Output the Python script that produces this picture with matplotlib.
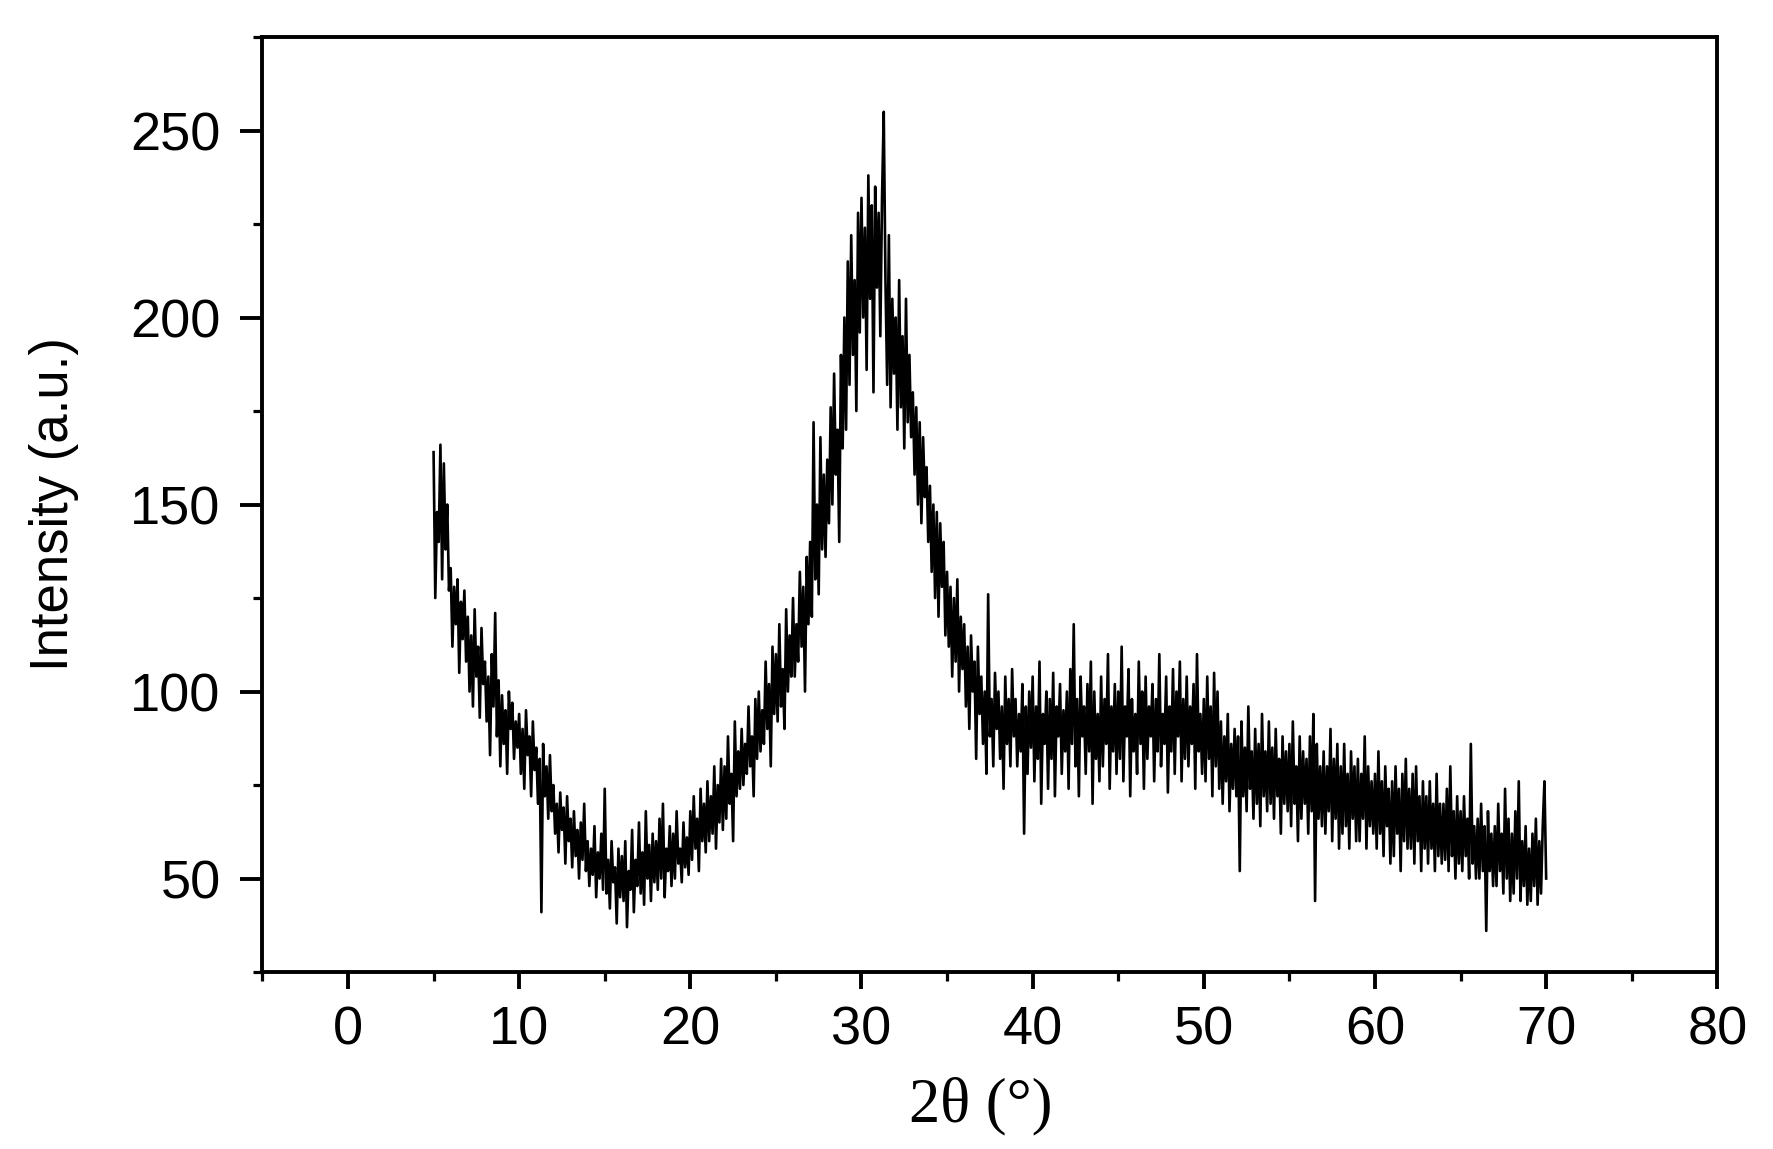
import numpy as np
import matplotlib
matplotlib.use("Agg")
import matplotlib.pyplot as plt
from matplotlib.ticker import MultipleLocator

# XRD scan: 2theta from 5 to 70 deg, 0.1 deg steps, intensities
scan_start = 5.0
scan_step = 0.1

intensity = [
    164, 125, 148, 140, 166, 130, 161, 138, 150, 127,   # 5
    133, 112, 128, 118, 130, 105, 124, 114, 127, 108,   # 6
    120, 100, 115, 96, 122, 104, 112, 93, 117, 102,     # 7
    108, 92, 104, 83, 110, 96, 121, 88, 103, 80,        # 8
    99, 86, 95, 78, 100, 90, 97, 82, 92, 85,            # 9
    94, 78, 90, 74, 95, 83, 88, 72, 92, 79,             # 10
    85, 70, 82, 41, 86, 72, 80, 66, 83, 68,             # 11
    75, 62, 70, 57, 73, 63, 69, 54, 72, 60,             # 12
    66, 53, 68, 56, 63, 50, 65, 55, 70, 52,             # 13
    60, 48, 58, 51, 64, 45, 57, 50, 62, 47,             # 14
    74, 46, 55, 42, 60, 49, 53, 38, 58, 45,             # 15
    56, 44, 60, 37, 52, 47, 63, 41, 55, 48,             # 16
    65, 46, 57, 43, 68, 50, 59, 44, 62, 49,             # 17
    60, 47, 66, 50, 70, 45, 58, 52, 64, 48,             # 18
    62, 50, 68, 54, 58, 49, 65, 53, 61, 51,             # 19
    68, 55, 72, 58, 66, 52, 74, 60, 70, 57,             # 20
    76, 60, 72, 62, 80, 58, 75, 65, 82, 63,             # 21
    80, 66, 88, 70, 78, 60, 92, 72, 84, 74,             # 22
    90, 75, 86, 78, 96, 80, 88, 72, 98, 82,             # 23
    100, 84, 95, 86, 108, 90, 102, 80, 112, 94,         # 24
    110, 92, 118, 96, 106, 90, 122, 100, 115, 104,      # 25
    125, 104, 118, 108, 132, 112, 128, 100, 136, 118,   # 26
    140, 120, 172, 130, 150, 126, 168, 138, 158, 136,   # 27
    162, 145, 176, 150, 185, 158, 170, 140, 190, 165,   # 28
    200, 170, 215, 182, 222, 190, 210, 175, 228, 196,   # 29
    232, 200, 224, 186, 238, 205, 230, 180, 235, 208,   # 30
    228, 195, 232, 255, 210, 182, 222, 176, 205, 185,   # 31
    200, 170, 210, 176, 195, 165, 205, 172, 190, 168,   # 32
    180, 158, 176, 150, 172, 145, 168, 152, 160, 140,   # 33
    155, 132, 150, 125, 148, 120, 145, 128, 140, 115,   # 34
    132, 112, 128, 104, 125, 108, 130, 100, 120, 106,   # 35
    118, 96, 112, 90, 115, 100, 108, 82, 112, 94,       # 36
    104, 86, 100, 78, 126, 88, 98, 80, 105, 90,         # 37
    100, 82, 96, 74, 104, 86, 98, 80, 106, 88,          # 38
    98, 80, 94, 84, 102, 62, 96, 78, 100, 85,           # 39
    104, 76, 96, 82, 108, 70, 94, 86, 100, 74,          # 40
    98, 82, 105, 72, 96, 88, 102, 78, 95, 84,           # 41
    100, 74, 106, 86, 118, 80, 98, 72, 104, 88,         # 42
    96, 78, 102, 84, 108, 70, 100, 82, 94, 76,          # 43
    104, 80, 98, 86, 110, 74, 96, 84, 102, 78,          # 44
    100, 82, 112, 76, 96, 88, 106, 72, 98, 84,          # 45
    94, 78, 108, 86, 100, 74, 104, 82, 96, 88,          # 46
    102, 76, 98, 84, 110, 80, 94, 86, 104, 73,          # 47
    96, 84, 106, 78, 100, 88, 108, 76, 98, 82,          # 48
    104, 80, 96, 86, 102, 74, 110, 84, 94, 78,          # 49
    98, 76, 104, 82, 96, 72, 105, 80, 100, 74,          # 50
    92, 70, 88, 76, 94, 68, 86, 74, 90, 72,             # 51
    88, 52, 92, 72, 85, 68, 96, 74, 84, 66,             # 52
    90, 70, 86, 64, 94, 72, 84, 68, 92, 70,             # 53
    85, 66, 90, 72, 82, 62, 88, 70, 84, 68,             # 54
    86, 64, 92, 70, 80, 60, 88, 66, 84, 70,             # 55
    82, 62, 88, 68, 94, 44, 86, 66, 80, 64,             # 56
    84, 62, 80, 68, 90, 60, 82, 66, 86, 58,             # 57
    80, 62, 86, 64, 78, 58, 84, 66, 80, 60,             # 58
    82, 60, 78, 66, 88, 58, 80, 64, 76, 62,             # 59
    78, 58, 84, 62, 76, 56, 80, 64, 74, 54,             # 60
    76, 56, 80, 62, 74, 52, 78, 60, 82, 58,             # 61
    74, 58, 78, 54, 80, 60, 72, 52, 76, 58,             # 62
    72, 54, 76, 58, 70, 52, 78, 56, 70, 54,             # 63
    70, 55, 74, 52, 80, 56, 68, 50, 72, 54,             # 64
    68, 52, 72, 56, 66, 50, 86, 54, 64, 50,             # 65
    66, 50, 70, 52, 64, 36, 68, 52, 62, 48,             # 66
    64, 48, 70, 52, 62, 46, 74, 50, 66, 44,             # 67
    62, 46, 68, 50, 76, 44, 60, 48, 64, 43,             # 68
    58, 44, 62, 48, 66, 43, 60, 46, 64, 76,             # 69
    50,                                                 # 70
]

two_theta = scan_start + scan_step * np.arange(len(intensity))

x_ticks = [0, 10, 20, 30, 40, 50, 60, 70, 80]
y_ticks = [50, 100, 150, 200, 250]

plt.rcParams['font.family'] = ['Liberation Sans', 'DejaVu Sans']

fig = plt.figure(figsize=(17.73, 11.49), dpi=100)
ax = fig.add_axes([0.148, 0.154, 0.8206, 0.8138])

ax.plot(two_theta, intensity, color="black", linewidth=1.9)

ax.set_xlim(-5, 80)
ax.set_ylim(25, 275)
ax.set_xticks(x_ticks)
ax.set_yticks(y_ticks)
ax.xaxis.set_minor_locator(MultipleLocator(5))
ax.yaxis.set_minor_locator(MultipleLocator(25))

for s in ax.spines.values():
    s.set_linewidth(2.8)

ax.tick_params(which="major", direction="out", width=2.8,
               labelsize=39, colors="black")
ax.tick_params(which="minor", direction="out", length=6.5, width=2.3)
ax.tick_params(axis="y", which="major", length=16, pad=14)
ax.tick_params(axis="x", which="major", length=12, pad=12)

ax.set_ylabel("Intensity (a.u.)", fontsize=38)
ax.yaxis.set_label_coords(-0.126, 0.5)
ax.set_xlabel("2θ (°)", fontsize=45, family=["Liberation Serif", "DejaVu Serif"])
ax.xaxis.set_label_coords(0.494, -0.112)

fig.savefig("out.png", dpi=100)
